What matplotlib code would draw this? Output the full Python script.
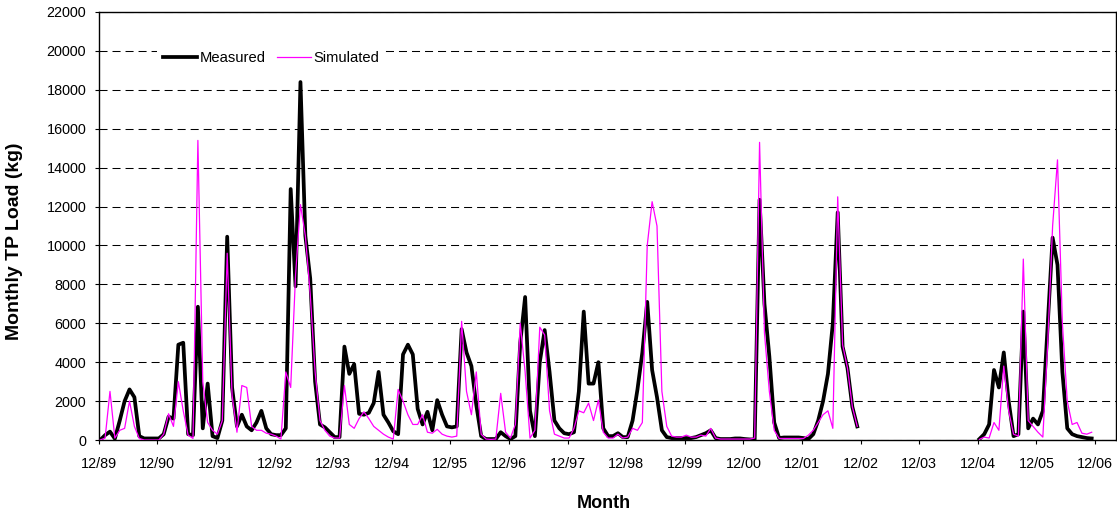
import matplotlib
matplotlib.use("Agg")
import matplotlib.pyplot as plt
import numpy as np

plt.rcParams["font.family"] = ["Liberation Sans", "DejaVu Sans"]

nan = np.nan

# Monthly TP load (kg), Dec 1989 onwards, one row per year; no record for 2003
measured = [
    0, 250, 430, 70, 1000, 2000, 2600, 2200, 200, 80, 80, 80,
    80, 300, 1200, 1100, 4900, 5000, 300, 250, 6850, 600, 2900, 200,
    100, 1000, 10450, 2700, 700, 1300, 700, 500, 900, 1500, 600, 300,
    250, 250, 600, 12900, 7900, 18400, 10500, 8300, 3000, 800, 650, 400,
    150, 150, 4800, 3400, 3900, 1350, 1300, 1400, 1900, 3500, 1300, 900,
    450, 300, 4400, 4900, 4400, 1600, 800, 1450, 500, 2050, 1300, 700,
    650, 700, 5700, 4500, 3800, 1800, 200, 50, 50, 50, 400, 200,
    50, 200, 5000, 7350, 1500, 200, 4000, 5650, 3500, 1000, 600, 350,
    300, 400, 2500, 6600, 2900, 2900, 4000, 600, 200, 200, 350, 150,
    150, 1000, 2600, 4500, 7100, 3600, 2200, 500, 150, 100, 100, 100,
    100, 100, 150, 250, 350, 500, 100, 50, 50, 50, 80, 80,
    50, 30, 30, 12350, 7000, 4300, 900, 100, 130, 130, 130, 130,
    100, 50, 300, 1000, 2000, 3400, 6000, 11700, 4800, 3700, 1700, 700,
] + [nan] * 24 + [
    50, 300, 800, 3600, 2700, 4500, 2000, 200, 300, 6600, 600, 1100,
    800, 1500, 6000, 10400, 9000, 3500, 600, 300, 200, 150, 100, 80,
]

simulated = [
    0, 100, 2500, 100, 500, 600, 2000, 700, 80, 0, 0, 0,
    0, 300, 1350, 700, 3000, 1500, 250, 80, 15400, 3000, 900, 500,
    300, 1000, 9600, 2300, 400, 2800, 2700, 700, 500, 500, 350, 300,
    200, 50, 3500, 2700, 8500, 12100, 10500, 7500, 3500, 1000, 500, 200,
    100, 100, 2800, 800, 600, 1100, 1450, 1100, 700, 500, 300, 150,
    50, 2600, 2000, 1300, 800, 800, 1300, 400, 350, 550, 300, 200,
    150, 200, 6100, 2500, 1300, 3500, 300, 50, 30, 50, 2400, 400,
    100, 800, 6000, 3500, 100, 500, 5800, 5400, 1500, 300, 200, 100,
    100, 600, 1500, 1400, 1900, 1000, 2050, 400, 100, 100, 300, 100,
    150, 600, 500, 900, 10000, 12250, 11000, 2500, 700, 200, 150, 150,
    250, 150, 150, 250, 200, 600, 100, 50, 50, 50, 50, 50,
    50, 50, 100, 15300, 5500, 2500, 500, 80, 80, 80, 80, 80,
    80, 250, 500, 900, 1300, 1500, 600, 12500, 4900, 3700, 1700, 700,
] + [nan] * 24 + [
    30, 150, 100, 900, 500, 3800, 1500, 300, 200, 9300, 1000, 700,
    400, 150, 5000, 11000, 14400, 6000, 2000, 800, 900, 350, 300, 400,
]

tick_labels = ["12/89", "12/90", "12/91", "12/92", "12/93", "12/94",
               "12/95", "12/96", "12/97", "12/98", "12/99", "12/00",
               "12/01", "12/02", "12/03", "12/04", "12/05", "12/06"]

# each monthly value sits a little after its month tick
months = np.arange(len(measured)) + 0.3

fig = plt.figure(figsize=(11.17, 5.15), dpi=100)
ax = fig.add_axes([0.0884, 0.1456, 0.9108, 0.8311])

ax.plot(months, measured, color="black", lw=2.7, solid_joinstyle="round",
        label="Measured", zorder=3)
ax.plot(months, simulated, color="#FF00FF", lw=0.9, label="Simulated", zorder=4)

ax.set_xlim(0, 208.3)
ax.set_ylim(0, 22000)
ax.set_xticks(np.arange(0, 12 * len(tick_labels), 12))
ax.set_xticklabels(tick_labels)
ax.set_yticks(np.arange(0, 22001, 2000))

# dashed horizontal grid
ax.yaxis.grid(True, color="black", lw=0.75, linestyle=(0, (7.7, 4.8)))
ax.set_axisbelow(True)

for side in ax.spines.values():
    side.set_linewidth(1.0)
    side.set_color("black")

ax.tick_params(direction="out", length=3, width=0.8, labelsize=10.4, colors="black")
ax.tick_params(axis="x", pad=9.5)
ax.tick_params(axis="y", pad=6)

ax.legend(loc="center left", bbox_to_anchor=(0.0573, 0.8925), ncol=2,
          frameon=True, fancybox=False, edgecolor="none", facecolor="white",
          framealpha=1, handlelength=2.3, handletextpad=0.2, columnspacing=0.75,
          borderaxespad=0, borderpad=0.4, fontsize=10.6)

fig.text(0.0134, 0.532, "Monthly TP Load (kg)", rotation=90, fontsize=14,
         fontweight="bold", ha="center", va="center")
fig.text(0.541, 0.023, "Month", fontsize=13, fontweight="bold",
         ha="center", va="center")

fig.savefig("out.png", dpi=100)
